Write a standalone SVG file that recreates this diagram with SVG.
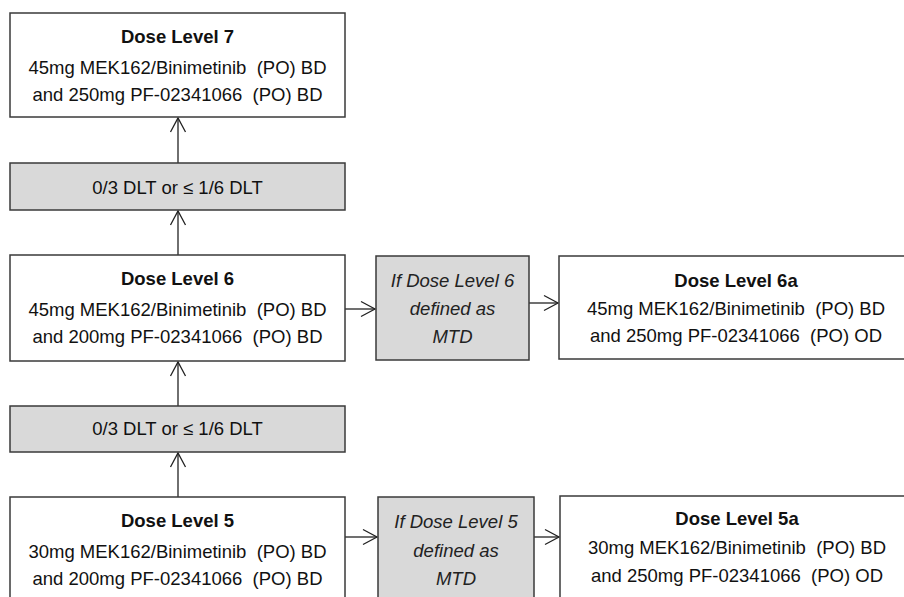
<svg xmlns="http://www.w3.org/2000/svg" width="904" height="597" viewBox="0 0 904 597">
<style>
.box{fill:#fff;stroke:#3a3a3a;stroke-width:1.5}
.gray{fill:#d9d9d9;stroke:#3a3a3a;stroke-width:1.5}
text{font-family:"Liberation Sans",Arial,sans-serif;font-size:18.5px;fill:#111;text-anchor:middle;white-space:pre}
.t{font-weight:bold}
.i{font-style:italic;fill:#222}
.c{stroke:#222;stroke-width:1.3;fill:none}
</style>
<defs>
<marker id="arr" markerUnits="userSpaceOnUse" markerWidth="20" markerHeight="20" viewBox="-16 -10 20 20" refX="0" refY="0" orient="auto">
<path d="M-14,-7.5 L0,0 L-14,7.5" fill="none" stroke="#222" stroke-width="1.3"/>
</marker>
</defs>
<rect width="904" height="597" fill="#fff"/>
<g id="connectors">
<line class="c" x1="178" y1="163" x2="178" y2="118" marker-end="url(#arr)"/>
<line class="c" x1="178" y1="255" x2="178" y2="211" marker-end="url(#arr)"/>
<line class="c" x1="178" y1="406" x2="178" y2="362" marker-end="url(#arr)"/>
<line class="c" x1="178" y1="497" x2="178" y2="453" marker-end="url(#arr)"/>
<line class="c" x1="345" y1="309" x2="375" y2="309" marker-end="url(#arr)"/>
<line class="c" x1="529" y1="303" x2="558" y2="303" marker-end="url(#arr)"/>
<line class="c" x1="345" y1="537" x2="377" y2="537" marker-end="url(#arr)"/>
<line class="c" x1="534" y1="537" x2="559" y2="537" marker-end="url(#arr)"/>
</g>
<g id="dl7">
<rect class="box" x="10" y="13" width="335" height="104"/>
<text class="t" x="177.5" y="43">Dose Level 7</text>
<text x="177.5" y="74" xml:space="preserve">45mg MEK162/Binimetinib  (PO) BD</text>
<text x="177.5" y="101" xml:space="preserve">and 250mg PF-02341066  (PO) BD</text>
</g>
<g id="dlt1">
<rect class="gray" x="10" y="163" width="335" height="47"/>
<text x="177.5" y="194">0/3 DLT or ≤ 1/6 DLT</text>
</g>
<g id="dl6">
<rect class="box" x="10" y="255" width="335" height="106"/>
<text class="t" x="177.5" y="285">Dose Level 6</text>
<text x="177.5" y="316" xml:space="preserve">45mg MEK162/Binimetinib  (PO) BD</text>
<text x="177.5" y="343" xml:space="preserve">and 200mg PF-02341066  (PO) BD</text>
</g>
<g id="mtd6">
<rect class="gray" x="376" y="256" width="153" height="104"/>
<text class="i" x="452.5" y="287">If Dose Level 6</text>
<text class="i" x="452.5" y="315">defined as</text>
<text class="i" x="452.5" y="343">MTD</text>
</g>
<g id="dl6a">
<rect class="box" x="559" y="256" width="355" height="103"/>
<text class="t" x="736" y="287">Dose Level 6a</text>
<text x="736" y="315" xml:space="preserve">45mg MEK162/Binimetinib  (PO) BD</text>
<text x="736" y="342" xml:space="preserve">and 250mg PF-02341066  (PO) OD</text>
</g>
<g id="dlt2">
<rect class="gray" x="10" y="406" width="335" height="46"/>
<text x="177.5" y="435">0/3 DLT or ≤ 1/6 DLT</text>
</g>
<g id="dl5">
<rect class="box" x="10" y="497" width="335" height="110"/>
<text class="t" x="177.5" y="527">Dose Level 5</text>
<text x="177.5" y="558" xml:space="preserve">30mg MEK162/Binimetinib  (PO) BD</text>
<text x="177.5" y="585" xml:space="preserve">and 200mg PF-02341066  (PO) BD</text>
</g>
<g id="mtd5">
<rect class="gray" x="378" y="497" width="156" height="110"/>
<text class="i" x="456" y="528">If Dose Level 5</text>
<text class="i" x="456" y="557">defined as</text>
<text class="i" x="456" y="585">MTD</text>
</g>
<g id="dl5a">
<rect class="box" x="560" y="496" width="354" height="110"/>
<text class="t" x="737" y="525">Dose Level 5a</text>
<text x="737" y="554" xml:space="preserve">30mg MEK162/Binimetinib  (PO) BD</text>
<text x="737" y="582" xml:space="preserve">and 250mg PF-02341066  (PO) OD</text>
</g>
</svg>
